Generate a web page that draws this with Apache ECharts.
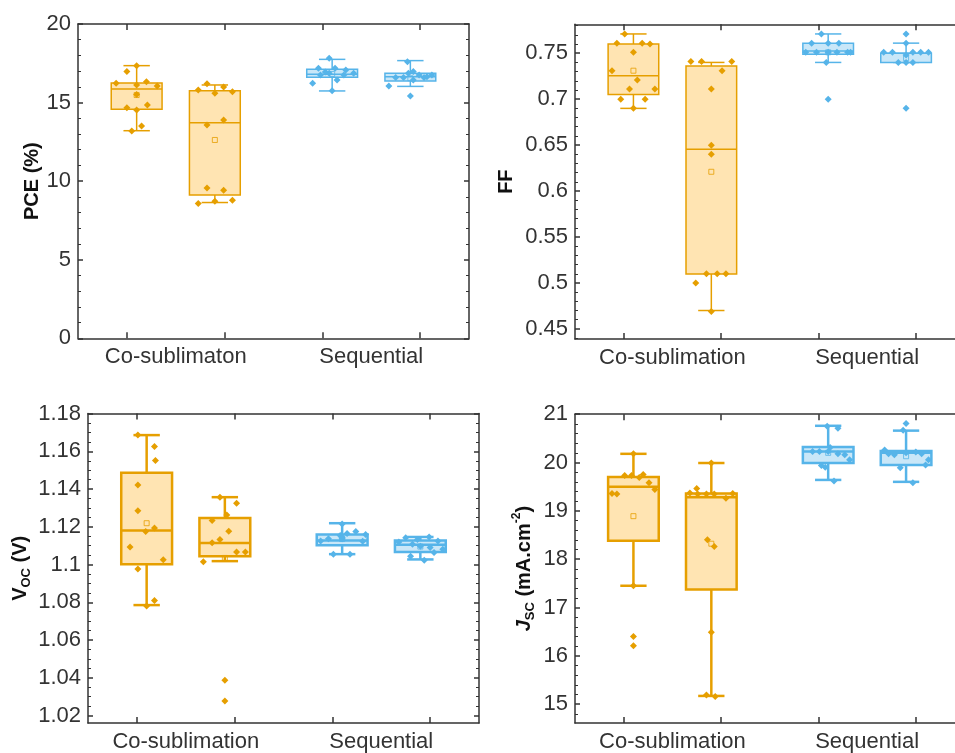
<!DOCTYPE html>
<html><head><meta charset="utf-8">
<script src="https://cdn.jsdelivr.net/npm/echarts@6/dist/echarts.min.js"></script>
<style>html,body{margin:0;padding:0;background:#fff;overflow:hidden;width:955px;height:753px}#c{width:975px;height:753px}</style>
</head><body><div id="c"></div>
<script>
// ---------------- DATA ----------------
const pceCategories = ['Co-sublimaton', 'Sequential'];
const otherCategories = ['Co-sublimation', 'Sequential'];
const boxPositions = [1.1, 1.9, 3.1, 3.9];
const tickPositions = [1, 2, 3, 4];
const labelPositions = [1.5, 3.5];

// box stats: [min, Q1, median, Q3, max]
const pceStats = [
  [13.21, 14.57, 15.86, 16.25, 17.35],
  [8.64, 9.12, 13.72, 15.76, 16.12],
  [15.74, 16.61, 16.80, 17.12, 17.75],
  [16.03, 16.37, 16.65, 16.86, 17.67]
];
const pceMeans = [15.48, 12.62, 16.82, 16.55];
const pcePoints = [
  [17.35, 16.97, 16.23, 16.12, 16.33, 16.06, 15.52, 14.67, 14.53, 14.85, 13.51, 13.19],
  [16.20, 15.80, 15.59, 15.99, 15.69, 13.57, 13.89, 9.56, 9.42, 8.57, 8.72, 8.78],
  [16.23, 17.82, 17.18, 17.18, 17.07, 16.75, 16.86, 16.44, 16.75, 16.86, 15.76, 16.95],
  [16.06, 17.60, 15.42, 16.60, 16.60, 16.86, 16.97, 16.75, 16.60, 16.75, 16.44, 16.65]
];
const pceJitter = [
  [0, -0.10, -0.21, 0, 0.10, 0.21, 0, -0.10, 0, 0.11, 0.05, -0.05],
  [-0.08, -0.17, 0, 0.09, 0.18, -0.08, 0.09, -0.08, 0.09, -0.17, 0, 0.18],
  [-0.20, -0.03, -0.14, 0.03, 0.14, -0.12, -0.03, 0.05, 0.12, 0.22, 0, -0.07],
  [-0.22, -0.03, 0, -0.15, -0.07, -0.02, 0.03, 0.09, 0.14, 0.22, 0.03, 0.17]
];
const pceTicks = [0, 5, 10, 15, 20];

const ffStats = [
  [0.690, 0.705, 0.7256, 0.760, 0.771],
  [0.470, 0.5098, 0.6455, 0.7362, 0.740],
  [0.740, 0.749, 0.7525, 0.761, 0.771],
  [0.740, 0.740, 0.750, 0.750, 0.761]
];
const ffMeans = [0.731, 0.621, 0.751, 0.7446];
const ffPoints = [
  [0.771, 0.761, 0.761, 0.760, 0.751, 0.731, 0.721, 0.711, 0.711, 0.700, 0.700, 0.690],
  [0.741, 0.741, 0.741, 0.731, 0.711, 0.650, 0.640, 0.510, 0.510, 0.510, 0.500, 0.469],
  [0.771, 0.761, 0.761, 0.761, 0.751, 0.751, 0.751, 0.751, 0.751, 0.751, 0.740, 0.700],
  [0.771, 0.761, 0.751, 0.751, 0.751, 0.751, 0.751, 0.740, 0.740, 0.740, 0.690, 0.748]
];
const ffJitter = [
  [-0.09, -0.17, 0.09, 0.17, 0, -0.22, 0.04, -0.04, 0.22, -0.13, 0.12, 0],
  [-0.21, -0.10, 0.21, 0.11, 0, 0, 0, -0.05, 0.06, 0.15, -0.16, 0],
  [-0.07, -0.17, 0, 0.11, -0.23, -0.12, 0, 0.09, 0.20, 0.23, -0.02, 0],
  [0, 0, -0.23, -0.14, 0.07, 0.15, 0.23, -0.08, 0, 0.07, 0, 0]
];
const ffTicks = [0.45, 0.5, 0.55, 0.6, 0.65, 0.7, 0.75];

const vocStats = [
  [1.0785, 1.1001, 1.1180, 1.1487, 1.1686],
  [1.1018, 1.1044, 1.1114, 1.1247, 1.1357],
  [1.1055, 1.1102, 1.1128, 1.1159, 1.1219],
  [1.1027, 1.1067, 1.1105, 1.1127, 1.1146]
];
const vocMeans = [1.1219, 1.1035, 1.1135, 1.1095];
const vocPoints = [
  [1.1686, 1.1625, 1.1552, 1.1421, 1.1285, 1.1194, 1.1175, 1.1093, 1.1025, 1.0976, 1.0809, 1.0780],
  [1.1357, 1.1325, 1.1262, 1.1233, 1.1176, 1.1116, 1.1133, 1.1067, 1.1067, 1.1015, 1.0387, 1.0277],
  [1.1215, 1.1175, 1.1159, 1.1154, 1.1137, 1.1137, 1.1123, 1.1125, 1.1055, 1.1055, 1.1145, 1.1165],
  [1.1142, 1.1133, 1.1146, 1.1120, 1.1097, 1.1044, 1.1023, 1.1064, 1.1081, 1.1107, 1.1125, 1.1090]
];
const vocJitter = [
  [-0.09, 0.08, 0.09, -0.09, -0.09, 0.08, -0.01, -0.17, 0.17, -0.09, 0.08, 0],
  [-0.05, 0.12, 0.02, -0.13, 0.04, -0.13, -0.05, 0.12, 0.21, -0.22, 0, 0],
  [0, 0.14, 0.24, -0.02, -0.14, 0, 0.21, -0.22, -0.09, 0.08, 0, 0.05],
  [-0.15, -0.03, 0.09, -0.22, 0, -0.10, 0.04, 0.14, 0.23, -0.08, 0.18, 0.10]
];
const vocTicks = [1.02, 1.04, 1.06, 1.08, 1.1, 1.12, 1.14, 1.16, 1.18];

const jscStats = [
  [17.45, 18.38, 19.50, 19.70, 20.18],
  [15.17, 17.37, 19.28, 19.36, 19.99],
  [19.64, 19.99, 20.23, 20.32, 20.76],
  [19.60, 19.95, 20.20, 20.24, 20.66]
];
const jscMeans = [18.89, 18.32, 20.20, 20.13];
const jscPoints = [
  [20.18, 19.73, 19.73, 19.69, 19.75, 19.58, 19.44, 19.36, 19.35, 17.45, 16.40, 16.21],
  [19.99, 19.46, 19.37, 19.35, 19.35, 19.35, 19.26, 19.36, 18.40, 18.26, 16.49, 15.19, 15.16],
  [20.75, 20.71, 20.23, 20.23, 20.23, 20.31, 20.16, 20.06, 19.94, 19.90, 19.62, 20.18],
  [20.81, 20.67, 20.26, 20.16, 20.20, 20.18, 20.06, 19.89, 19.58, 20.18, 20.22, 19.95]
];
const jscJitter = [
  [0, -0.09, -0.02, 0.06, 0.10, 0.16, 0.22, -0.22, -0.17, 0, 0, 0],
  [0, -0.15, -0.22, -0.14, -0.05, 0.03, 0.15, 0.22, -0.04, 0.03, 0, -0.05, 0.04],
  [-0.01, 0.10, -0.16, -0.09, 0, 0.02, 0.17, 0.22, -0.07, -0.03, 0.06, 0.10],
  [0, -0.03, -0.22, -0.12, 0, 0.16, 0.23, -0.06, 0.07, -0.18, 0.10, 0.20]
];
const jscTicks = [15, 16, 17, 18, 19, 20, 21];

// ---------------- STYLE / LAYOUT ----------------
const FONT = '"Liberation Sans", Arial, Helvetica, sans-serif';
const TXT = '#333';
const FRAME = '#333';
const ORANGE = { stroke: '#E69F00', fill: '#FFE4B2' };
const BLUE = { stroke: '#56B4E9', fill: '#C9E7F8' };
const boxColors = [ORANGE, ORANGE, BLUE, BLUE];
const BOX_W = 0.52, CAP_W = 0.27;

function minorOf(majors, step, lo, hi) {
  const out = [];
  const n = Math.round((hi - lo) / step);
  const start = Math.ceil(lo / step - 1e-9) * step;
  for (let i = 0; i <= n + 1; i++) {
    const v = +(start + i * step).toFixed(6);
    if (v < lo - 1e-9 || v > hi + 1e-9) continue;
    if (majors.some(m => Math.abs(m - v) < step / 10)) continue;
    out.push(v);
  }
  return out;
}

const panels = [
  { grid: { left: 78, top: 24, width: 391, height: 314.3 }, yMin: 0, yMax: 20,
    ticks: pceTicks, minorStep: 1, stats: pceStats, means: pceMeans, points: pcePoints, jitter: pceJitter,
    cats: pceCategories, lw: 1.5, name: 'PCE (%)', nameGap: 36 },
  { grid: { left: 575, top: 24.3, width: 389.5, height: 314.7 }, yMin: 0.439, yMax: 0.7815,
    ticks: ffTicks, minorStep: 0.01, stats: ffStats, means: ffMeans, points: ffPoints, jitter: ffJitter,
    cats: otherCategories, lw: 1.5, name: 'FF', nameGap: 59 },
  { grid: { left: 88, top: 413.6, width: 391, height: 313.1 }, yMin: 1.016, yMax: 1.18,
    ticks: vocTicks, minorStep: 0.005, stats: vocStats, means: vocMeans, points: vocPoints, jitter: vocJitter,
    cats: otherCategories, lw: 2.5, name: '{v|V}{s|OC}{v| (V)}', nameGap: 55 },
  { grid: { left: 575, top: 414.2, width: 389.5, height: 312.5 }, yMin: 14.61, yMax: 21,
    ticks: jscTicks, minorStep: 0.2, stats: jscStats, means: jscMeans, points: jscPoints, jitter: jscJitter,
    cats: otherCategories, lw: 2.5, name: '{j|J}{s|SC}{v| (mA.cm}{p|-2}{v|)}', nameGap: 38 }
];

const fmt = v => String(parseFloat((+v).toFixed(4)));

const option = { animation: false, backgroundColor: '#fff', grid: [], xAxis: [], yAxis: [], series: [] };

panels.forEach((P, pi) => {
  option.grid.push(Object.assign({ containLabel: false }, P.grid));
  const minors = minorOf(P.ticks, P.minorStep, P.yMin, P.yMax);
  const lineStyle = { color: FRAME, width: 1.5 };
  option.xAxis.push({
    gridIndex: pi, type: 'value', position: 'bottom', min: 0.5, max: 4.5,
    axisLine: { show: true, onZero: false, lineStyle },
    axisTick: { show: true, inside: true, length: 6, customValues: tickPositions, lineStyle: { color: FRAME, width: 1.5 } },
    axisLabel: { show: true, customValues: labelPositions, margin: 8, color: TXT, fontFamily: FONT, fontSize: 22,
      formatter: v => P.cats[labelPositions.findIndex(p => Math.abs(p - v) < 1e-6)] },
    splitLine: { show: false }
  });
  option.xAxis.push({
    gridIndex: pi, type: 'value', position: 'top', min: 0.5, max: 4.5,
    axisLine: { show: true, onZero: false, lineStyle },
    axisTick: { show: true, inside: true, length: 6, customValues: tickPositions, lineStyle: { color: FRAME, width: 1.5 } },
    axisLabel: { show: false }, splitLine: { show: false }
  });
  const nameStyle = {
    fontFamily: FONT, fontSize: 20, fontWeight: 'bold', color: '#111',
    rich: {
      v: { fontFamily: FONT, fontSize: 20, fontWeight: 'bold', color: '#111', lineHeight: 26 },
      j: { fontFamily: FONT, fontSize: 20, fontWeight: 'bold', fontStyle: 'italic', color: '#111', lineHeight: 26 },
      s: { fontFamily: FONT, fontSize: 13, fontWeight: 'bold', color: '#111', lineHeight: 14, verticalAlign: 'bottom' },
      p: { fontFamily: FONT, fontSize: 12, fontWeight: 'bold', color: '#111', lineHeight: 14, verticalAlign: 'top' }
    }
  };
  ['left', 'right'].forEach(side => {
    option.yAxis.push({
      gridIndex: pi, type: 'value', position: side, min: P.yMin, max: P.yMax,
      name: side === 'left' ? P.name : '', nameLocation: 'middle', nameRotate: 90, nameGap: P.nameGap,
      nameTextStyle: nameStyle,
      axisLine: { show: true, onZero: false, lineStyle },
      axisTick: { show: true, inside: true, length: 5, customValues: P.ticks, lineStyle: { color: FRAME, width: 1.5 } },
      axisLabel: { show: side === 'left', customValues: P.ticks, margin: 7, color: TXT, fontFamily: FONT, fontSize: 22, formatter: fmt },
      splitLine: { show: false }
    });
    option.yAxis.push({
      gridIndex: pi, type: 'value', position: side, min: P.yMin, max: P.yMax,
      axisLine: { show: false, onZero: false },
      axisTick: { show: true, inside: true, length: 3, customValues: minors, lineStyle: { color: FRAME, width: 1 } },
      axisLabel: { show: false }, splitLine: { show: false }
    });
  });
  const xi = pi * 2, yi = pi * 4;
  const lw = P.lw;
  option.series.push({
    type: 'custom', xAxisIndex: xi, yAxisIndex: yi, z: 2,
    data: P.stats.map((s, i) => [boxPositions[i]].concat(s)),
    encode: { x: 0, y: [1, 2, 3, 4, 5] },
    renderItem: (params, api) => {
      const c = boxColors[params.dataIndex];
      const pos = api.value(0);
      const pMin = api.coord([pos, api.value(1)]);
      const pQ1 = api.coord([pos, api.value(2)]);
      const pMed = api.coord([pos, api.value(3)]);
      const pQ3 = api.coord([pos, api.value(4)]);
      const pMax = api.coord([pos, api.value(5)]);
      const hw = api.size([BOX_W, 0])[0] / 2;
      const cw = api.size([CAP_W, 0])[0] / 2;
      const x = pMed[0];
      const ls = { stroke: c.stroke, lineWidth: lw, fill: null };
      return { type: 'group', children: [
        { type: 'line', shape: { x1: x, y1: pQ3[1], x2: x, y2: pMax[1] }, style: ls },
        { type: 'line', shape: { x1: x, y1: pQ1[1], x2: x, y2: pMin[1] }, style: ls },
        { type: 'line', shape: { x1: x - cw, y1: pMax[1], x2: x + cw, y2: pMax[1] }, style: ls },
        { type: 'line', shape: { x1: x - cw, y1: pMin[1], x2: x + cw, y2: pMin[1] }, style: ls },
        { type: 'rect', shape: { x: x - hw, y: pQ3[1], width: 2 * hw, height: pQ1[1] - pQ3[1] },
          style: { fill: c.fill, stroke: c.stroke, lineWidth: lw } },
        { type: 'line', shape: { x1: x - hw, y1: pMed[1], x2: x + hw, y2: pMed[1] }, style: ls }
      ] };
    }
  });
  P.points.forEach((arr, i) => {
    option.series.push({
      type: 'scatter', xAxisIndex: xi, yAxisIndex: yi, z: 4,
      symbol: 'diamond', symbolSize: 7,
      itemStyle: { color: boxColors[i].stroke, opacity: 1 },
      data: arr.map((v, k) => [boxPositions[i] + P.jitter[i][k], v])
    });
  });
  option.series.push({
    type: 'scatter', xAxisIndex: xi, yAxisIndex: yi, z: 3,
    symbol: 'rect', symbolSize: 5,
    itemStyle: { color: 'rgba(255,255,255,0)', borderWidth: 1 },
    data: P.means.map((m, i) => ({ value: [boxPositions[i], m], itemStyle: { borderColor: boxColors[i].stroke } }))
  });
});

const chart = echarts.init(document.getElementById('c'), null, { renderer: 'canvas' });
chart.setOption(option);
</script>
</body></html>
